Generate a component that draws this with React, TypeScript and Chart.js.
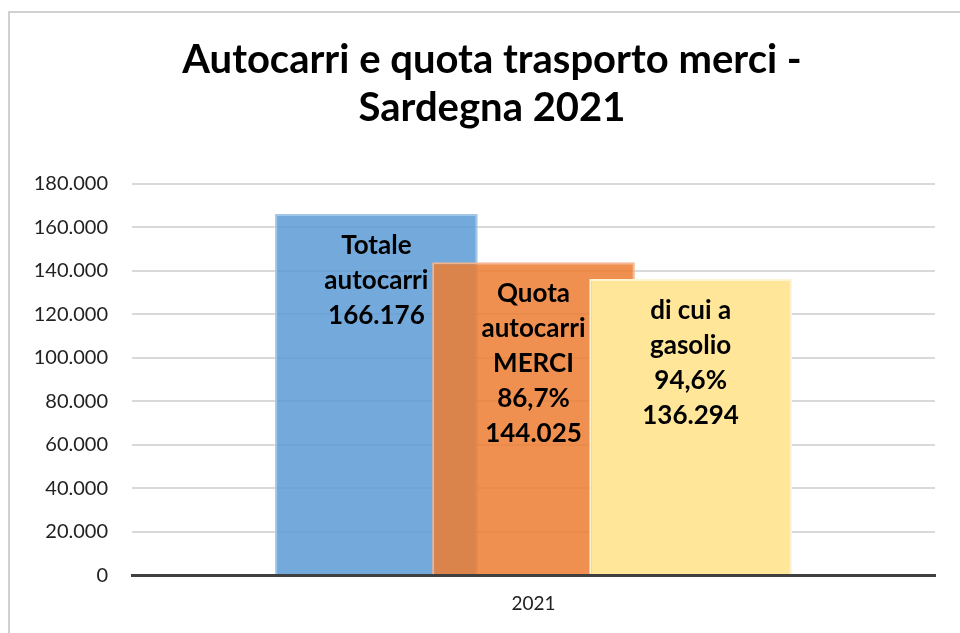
import React, { useEffect, useRef } from 'react';
import { Chart, registerables } from 'chart.js';

Chart.register(...registerables);

// ---- data ----
const categories = ['2021'];
const titleLines = ['Autocarri e quota trasporto merci -', 'Sardegna 2021'];
const seriesNames = ['Totale autocarri', 'Quota autocarri MERCI', 'di cui a gasolio'];
const labelLines = [['Totale', 'autocarri'], ['Quota', 'autocarri', 'MERCI'], ['di cui a', 'gasolio']];
const seriesValues = [166176, 144025, 136294];
const seriesShares = ['', '86,7%', '94,6%'];
const yMin = 0;
const yMax = 180000;
const yStep = 20000;

// ---- styles ----
const fillColors = ['rgba(91,155,213,0.85)', 'rgba(237,125,49,0.85)', '#FFE699'];
const edgeColors = ['rgba(157,195,230,0.95)', 'rgba(246,180,140,0.95)', '#FFF4D0'];
const FONT = 'Lato, "Open Sans", sans-serif';

const fmt = (n: number) => String(Math.round(n)).replace(/\B(?=(\d{3})+(?!\d))/g, '.');

const drawOrderPlugin = {
  id: 'drawOrder',
  beforeDatasetsDraw(chart: any) {
    for (let i = 0; i < chart.data.datasets.length; i++) {
      const meta = chart.getDatasetMeta(i);
      if (meta.visible !== false) meta.controller.draw();
    }
    return false;
  },
};

const textPlugin = {
  id: 'texts',
  afterDraw(chart: any) {
    const ctx = chart.ctx;
    ctx.save();
    // title
    ctx.fillStyle = '#000';
    ctx.textAlign = 'center';
    ctx.textBaseline = 'alphabetic';
    ctx.font = `bold 40px ${FONT}`;
    const titleBase = [73, 121];
    titleLines.forEach((t, i) => ctx.fillText(t, 492, titleBase[i]));
    // bar labels
    ctx.font = `bold 26px ${FONT}`;
    chart.data.datasets.forEach((ds: any, i: number) => {
      const el = chart.getDatasetMeta(i).data[0];
      if (!el) return;
      const lines = [...labelLines[i]];
      if (seriesShares[i]) lines.push(seriesShares[i]);
      lines.push(fmt(seriesValues[i]));
      lines.forEach((l, k) => ctx.fillText(l, el.x, el.y + 40 + k * 35));
    });
    ctx.restore();
  },
};

export default function App() {
  const ref = useRef<HTMLCanvasElement | null>(null);
  useEffect(() => {
    let chart: Chart | null = null;
    let cancelled = false;
    const make = () => {
      if (cancelled || !ref.current) return;
      chart = new Chart(ref.current, {
        type: 'bar',
        data: {
          labels: categories,
          datasets: seriesValues.map((v, i) => ({
            label: seriesNames[i],
            data: [v],
            backgroundColor: fillColors[i],
            borderColor: edgeColors[i],
            borderWidth: 2,
            categoryPercentage: 0.587,
            barPercentage: 1.29,
          })),
        },
        options: {
          responsive: false,
          animation: false,
          layout: { padding: { left: 0, right: 25, top: 184, bottom: 0 } },
          plugins: {
            legend: { display: false },
            title: { display: false },
            tooltip: { enabled: false },
          },
          scales: {
            x: {
              grid: { display: false, drawTicks: false },
              border: { display: true, color: '#404040', width: 3, z: 1 },
              ticks: { font: { family: FONT, size: 19 }, color: '#222', padding: 17.5 },
            },
            y: {
              min: yMin,
              max: yMax,
              ticks: {
                stepSize: yStep,
                callback: (v: any) => fmt(Number(v)),
                font: { family: FONT, size: 20 },
                color: '#222',
                padding: 24,
              },
              grid: { color: '#d9d9d9', lineWidth: 2, drawTicks: false },
              border: { display: false },
              afterFit(s: any) {
                s.width = 132;
              },
            },
          },
        },
        plugins: [drawOrderPlugin, textPlugin],
      } as any);
    };
    const fontsReady = (document as any).fonts
      ? Promise.all([
          (document as any).fonts.load(`bold 40px Lato`),
          (document as any).fonts.load(`19px Lato`),
        ]).catch(() => null)
      : Promise.resolve();
    fontsReady.then(make);
    return () => {
      cancelled = true;
      if (chart) chart.destroy();
    };
  }, []);
  return (
    <div style={{ position: 'fixed', left: 0, top: 0, width: 960, height: 633, overflow: 'hidden', background: '#fff' }}>
      <div style={{ position: 'absolute', left: 8, top: 11, width: 1000, height: 700, border: '2px solid #d0d0d0' }} />
      <canvas ref={ref} width={960} height={633} style={{ position: 'absolute', left: 0, top: 0, width: 960, height: 633 }} />
    </div>
  );
}
